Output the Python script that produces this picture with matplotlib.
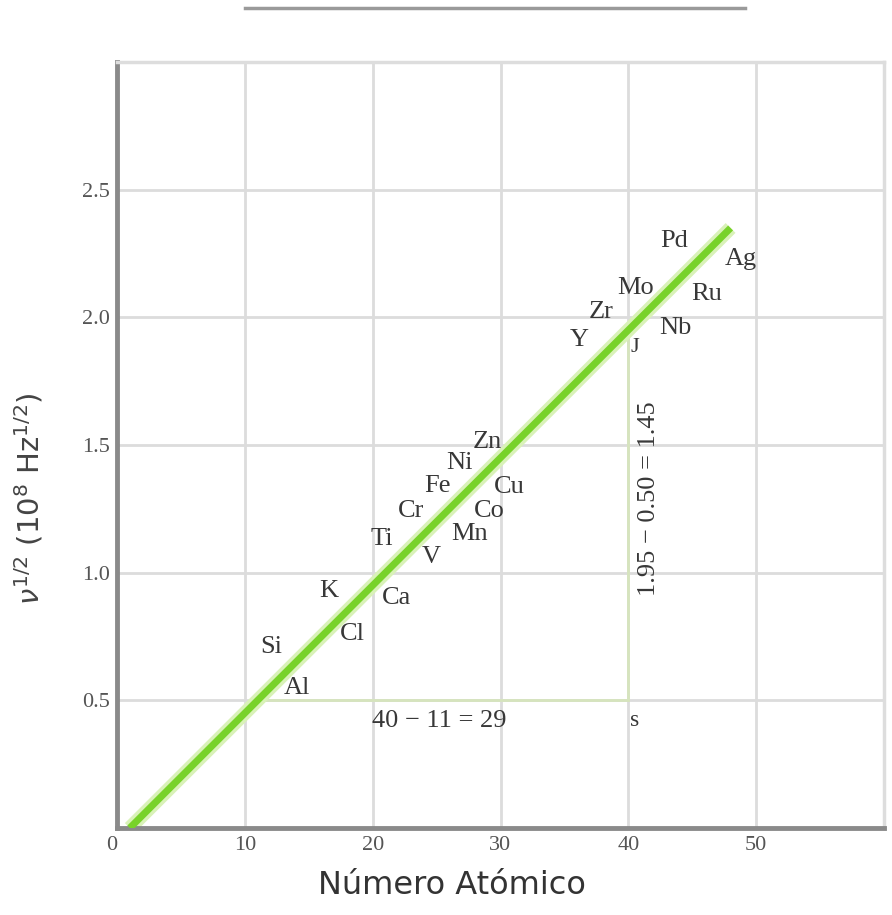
import matplotlib.pyplot as plt
from matplotlib.lines import Line2D

# Data
elements = ['Al', 'Si', 'Cl', 'K', 'Ca', 'Ti', 'V', 'Cr', 'Mn', 'Fe', 'Co', 'Ni', 'Cu', 'Zn',
            'Y', 'Zr', 'Nb', 'Mo', 'Ru', 'Pd', 'Ag']
label_x = [14.1, 12.1, 18.4, 16.6, 21.9, 20.7, 24.6, 23.0, 27.6, 25.1, 29.1, 26.8, 30.7, 29.0,
           36.2, 37.9, 43.7, 40.6, 46.1, 43.6, 48.8]
label_y = [0.55, 0.71, 0.76, 0.93, 0.90, 1.13, 1.06, 1.24, 1.15, 1.34, 1.24, 1.43, 1.336, 1.51,
           1.91, 2.02, 1.96, 2.115, 2.09, 2.30, 2.23]
fit_x = [1, 48]
fit_y = [0.0, 2.35]
dz_x = [11, 40]
dy_y = [0.50, 1.95]
xticks = [0, 10, 20, 30, 40, 50]
yticks = [0.5, 1.0, 1.5, 2.0, 2.5]

fig = plt.figure(figsize=(8.92, 9.15), dpi=100)
ax = fig.add_axes([117 / 892, 87 / 915, 767 / 892, 766 / 915])
ax.set_xlim(0, 60)
ax.set_ylim(0, 3.0)

# grid
for v in xticks[1:]:
    ax.axvline(v, color='#dcdcdc', lw=2, zorder=0)
for v in yticks:
    ax.axhline(v, color='#dcdcdc', lw=2, zorder=0)

# construction lines
ax.plot(dz_x, [dy_y[0], dy_y[0]], color='#d6e4bd', lw=2, zorder=1)
ax.plot([dz_x[1], dz_x[1]], dy_y, color='#d6e4bd', lw=2, zorder=1)

# fitted line
ax.plot(fit_x, fit_y, color='#d9f2b8', lw=10, solid_capstyle='butt', zorder=2)
ax.plot(fit_x, fit_y, color='#78d22a', lw=5, solid_capstyle='butt', zorder=3)

for el, x, y in zip(elements, label_x, label_y):
    ax.text(x, y, el, fontsize=19, family='Liberation Serif', color='#383838',
            ha='center', va='center', zorder=4)

ax.text((dz_x[0] + dz_x[1]) / 2 - 0.3, 0.42, '40 \u2212 11 = 29', fontsize=19,
        family='Liberation Serif', color='#383838', ha='center', va='center')
ax.text(41.6, 1.29, '1.95 \u2212 0.50 = 1.45', fontsize=19, rotation=90,
        family='Liberation Serif', color='#383838', ha='center', va='center')
ax.text(40.5, 0.42, 's', fontsize=17, family='Liberation Serif', color='#383838',
        ha='center', va='center')
ax.text(40.5, 1.88, 'J', fontsize=16, family='Liberation Serif', color='#383838',
        ha='center', va='center')

ax.set_xticks(xticks)
ax.set_yticks(yticks)
ax.set_xticklabels([str(t) for t in xticks], family='Liberation Serif', fontsize=16, color='#555555')
ax.set_yticklabels(['%.1f' % t for t in yticks], family='Liberation Serif', fontsize=16, color='#555555')
ax.tick_params(length=0, pad=5)
ax.tick_params(axis='x', pad=6)
ax.get_xticklabels()[0].set_horizontalalignment('right')

for s in ['left', 'bottom']:
    ax.spines[s].set_color('#8a8a8a')
    ax.spines[s].set_linewidth(3.5)
for s in ['top', 'right']:
    ax.spines[s].set_color('#dddddd')
    ax.spines[s].set_linewidth(2.5)

ax.set_xlabel('Número Atómico', fontsize=23, color='#333333')
ax.xaxis.set_label_coords(0.437, -0.055)
ax.set_ylabel(r'$\nu^{1/2}$ (10$^{8}$ Hz$^{1/2}$)', fontsize=21, color='#444444')
ax.yaxis.set_label_coords(-0.093, 0.43)

# leftover line at the top of the picture
fig.add_artist(Line2D([245 / 892, 745 / 892], [1 - 8 / 915, 1 - 8 / 915],
                      color='#9a9a9a', lw=2.5))

fig.savefig('out.png', dpi=100)
